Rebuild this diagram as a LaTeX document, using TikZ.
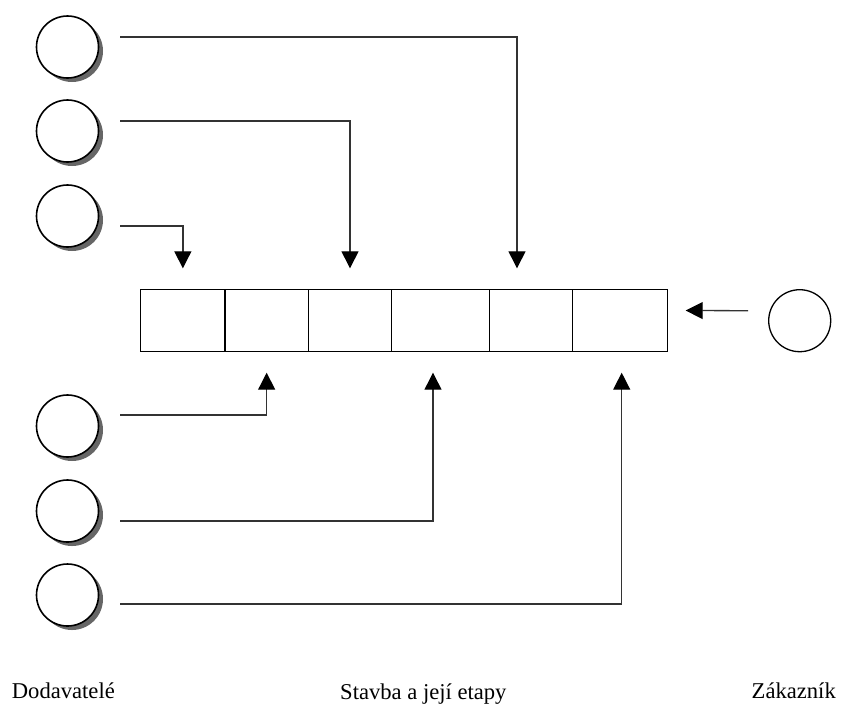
\documentclass[tikz,border=0pt]{standalone}
\usepackage{fontspec}
\setmainfont{Liberation Serif}
\usepackage{tikz}
\usetikzlibrary{positioning, calc, arrows.meta, shadows}
\tikzset{
  supplier/.style={
    circle, draw, line width=1.6pt, minimum size=62pt, inner sep=0pt,
    fill=white, drop shadow={shadow xshift=4.5pt, shadow yshift=-4pt,
    fill=black!60, opacity=1}
  },
  customer/.style={circle, draw, line width=1.3pt, minimum size=62pt, inner sep=0pt},
  stagebox/.style={draw, line width=1.2pt, minimum height=62.4pt, inner sep=0pt,
                   outer sep=0pt, anchor=west},
  feed/.style={line width=1.3pt, black!80, -{Triangle[length=17pt, width=17pt, color=black]}},
  caption/.style={font=\fontsize{22.6pt}{27pt}\selectfont, inner sep=0pt},
}

\begin{document}
\begin{tikzpicture}[x=1pt, y=-1pt]
\useasboundingbox (0,0) rectangle (845,705);

%% ── stages of the construction (six cells in a row) ───────────────
\foreach \n/\xa/\xb in {1/140.7/225, 2/225/308.3, 3/308.3/391.7,
                        4/391.7/489.3, 5/489.3/572.7, 6/572.7/667.3}
  \node[stagebox, minimum width=\xb-\xa] (s\n) at (\xa,320.5) {};

%% ── suppliers on the left, customer on the right ──────────────────
\foreach \n/\y in {1/47, 2/131, 3/216, 4/426, 5/511, 6/595}
  \node[supplier] (d\n) at (67.5,\y) {};
\node[customer] (zak) at (799.7,320.7) {};

%% ── deliveries into the stages ────────────────────────────────────
\draw[feed] ([shift={(21pt,10pt)}]d1.east)  -| ([shift={(-14pt,21pt)}]s5.north);
\draw[feed] ([shift={(21pt,10pt)}]d2.east)  -| ([shift={(0pt,21pt)}]s3.north);
\draw[feed] ([shift={(21pt,-10pt)}]d3.east) -| ([shift={(0pt,21pt)}]s1.north);
\draw[feed] ([shift={(21pt,11pt)}]d4.east)  -| ([shift={(0pt,-21pt)}]s2.south);
\draw[feed] ([shift={(21pt,-10pt)}]d5.east) -| ([shift={(-7.5pt,-21pt)}]s4.south);
\draw[feed] ([shift={(21pt,-9pt)}]d6.east)  -| ([shift={(1.7pt,-21pt)}]s6.south);

\draw[feed] ([shift={(-20pt,10pt)}]zak.west) -- ([shift={(18.4pt,10pt)}]s6.east);

%% ── captions ──────────────────────────────────────────────────────
\node[caption, anchor=base west] (tdod) at (11.7,698) {Dodavatelé};
\node[caption, anchor=base west] (tsta) at (340,699) {Stavba a její etapy};
\node[caption, anchor=base east] (tzak) at (836,698) {Zákazník};

\end{tikzpicture}
\end{document}
